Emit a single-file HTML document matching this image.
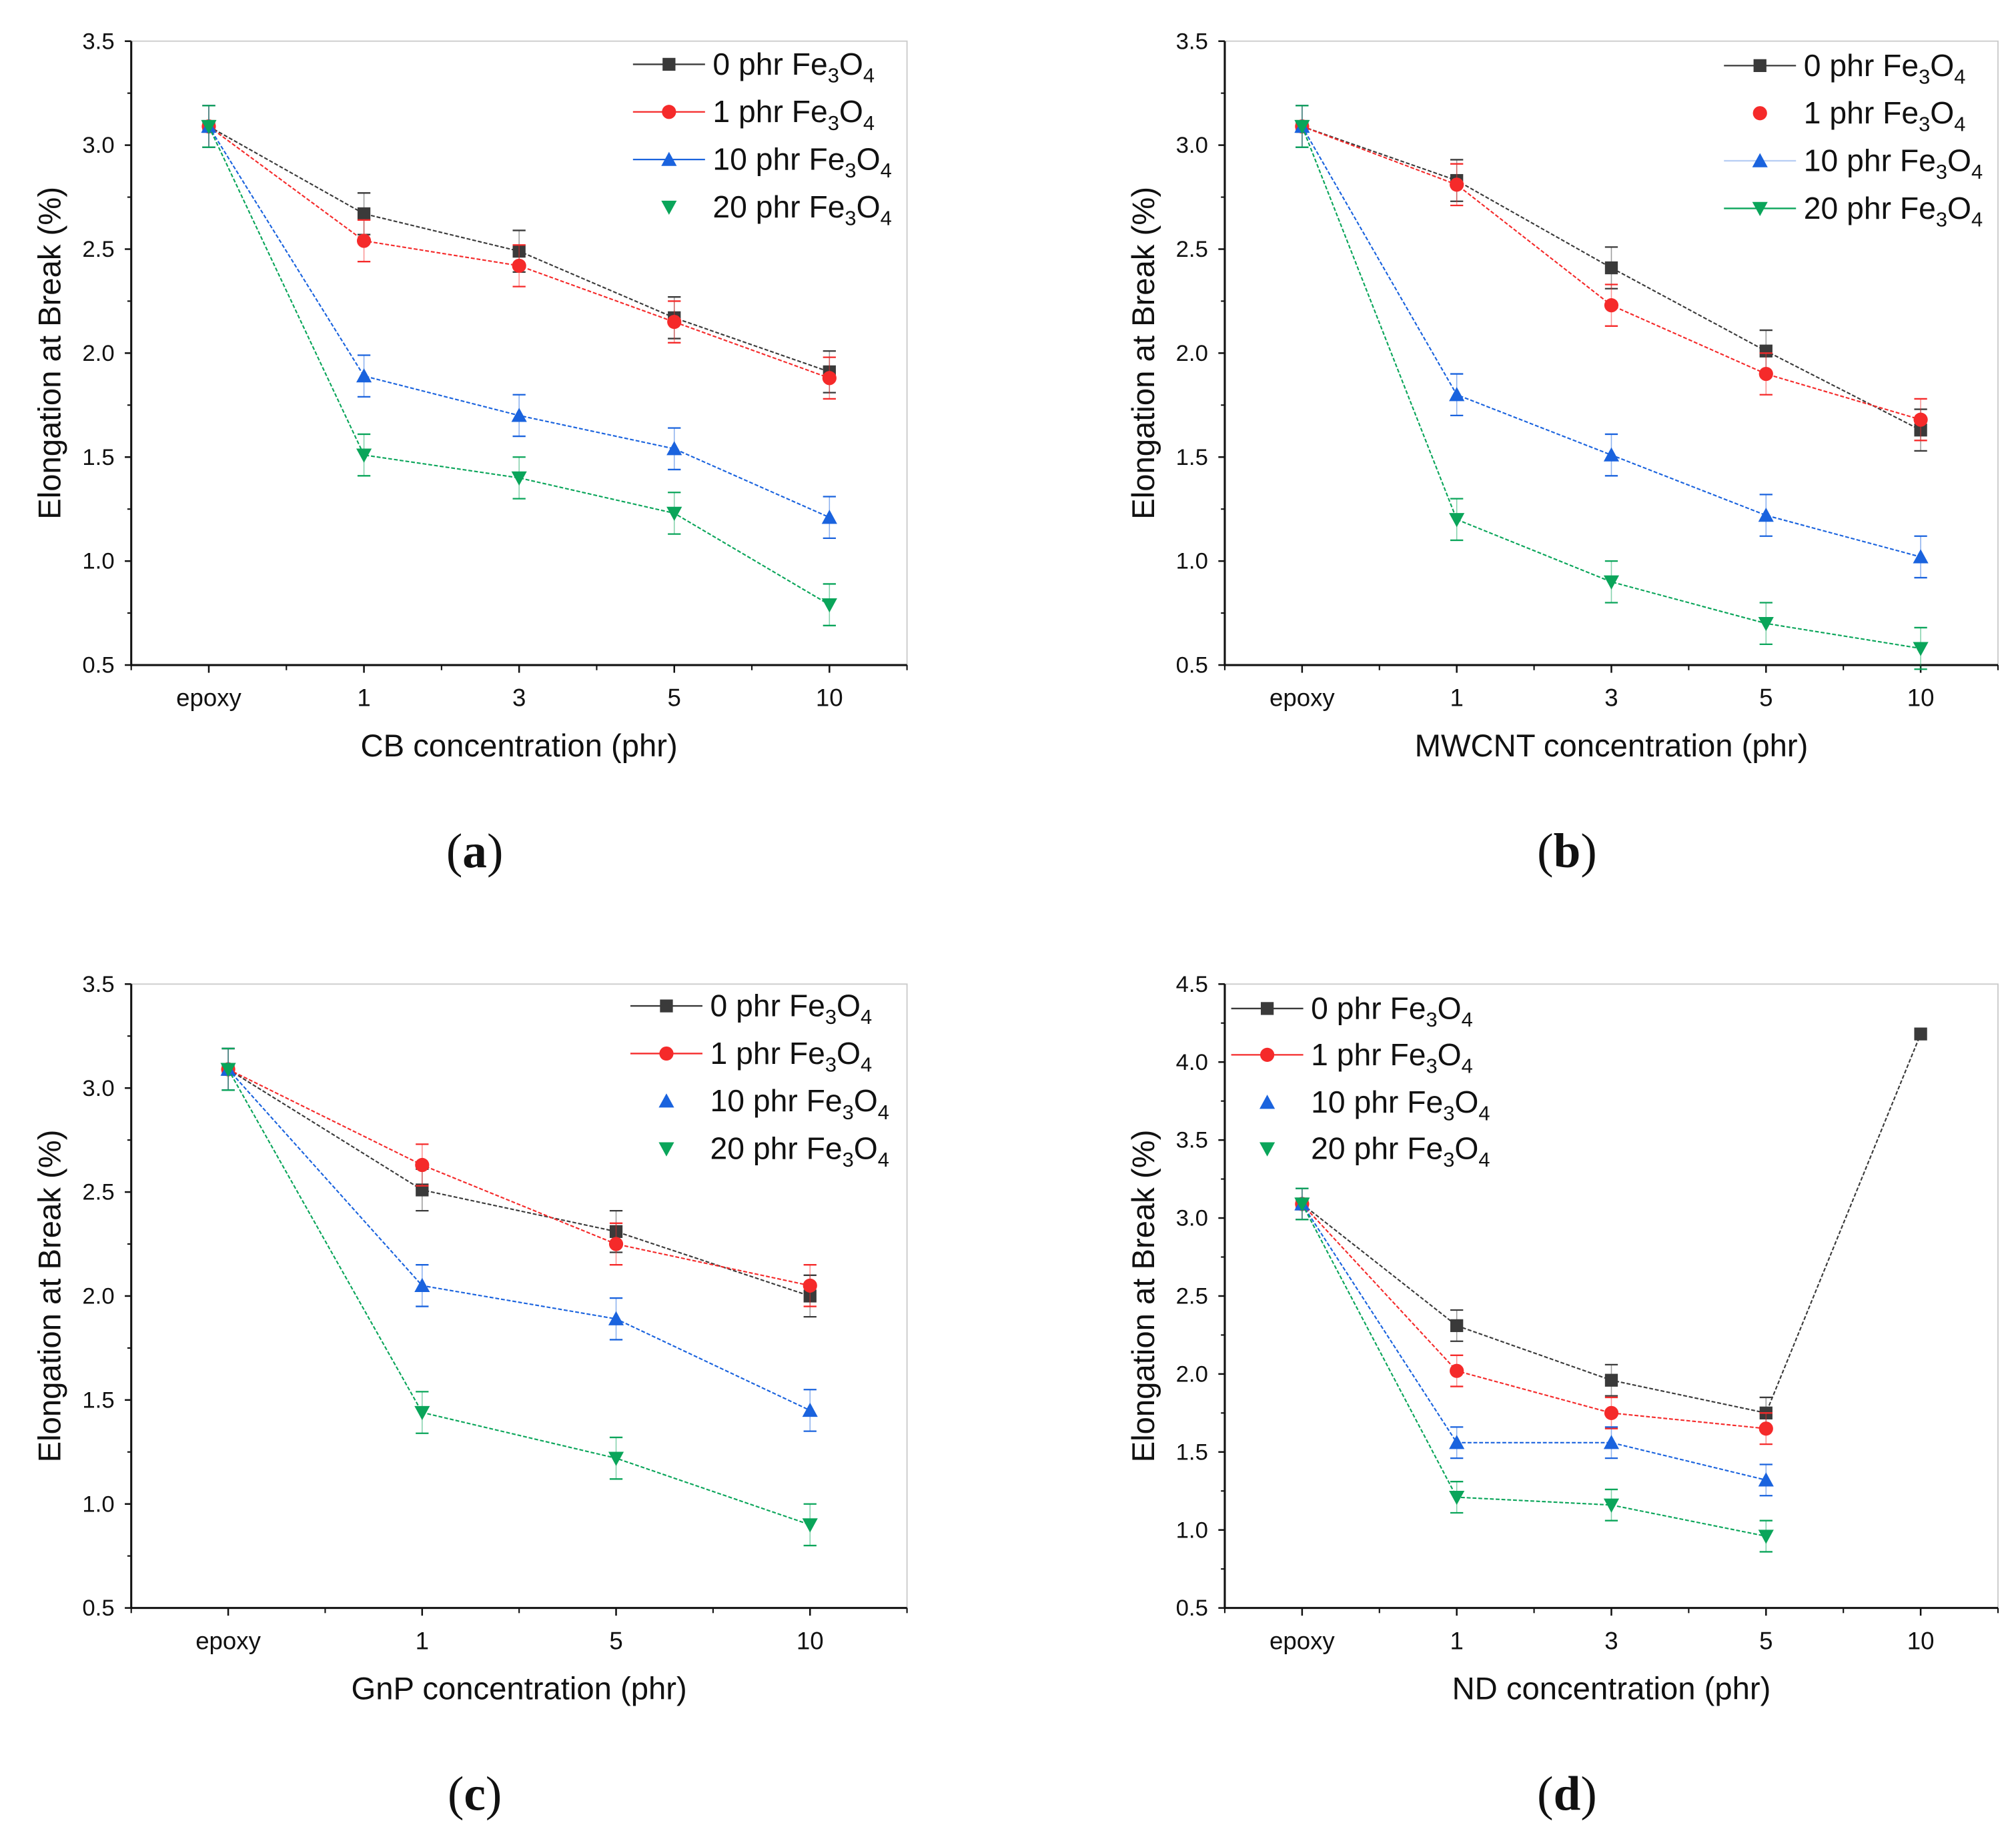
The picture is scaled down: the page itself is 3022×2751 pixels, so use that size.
<!DOCTYPE html>
<html><head><meta charset="utf-8"><style>
html,body{margin:0;padding:0;background:#fff}
svg{display:block}
</style></head><body>
<svg id="fig" width="3022" height="2751" viewBox="0 0 1567 1426.5" preserveAspectRatio="none" xmlns="http://www.w3.org/2000/svg" font-family="Liberation Sans, sans-serif"></svg>
<script>
const catsA=["epoxy","1","3","5","10"];
const catsB=["epoxy","1","3","5","10"];
const catsC=["epoxy","1","5","10"];
const catsD=["epoxy","1","3","5","10"];
const seriesNames=["0 phr","1 phr","10 phr","20 phr"];
const a0=[3.09,2.67,2.49,2.17,1.91], a1=[3.09,2.54,2.42,2.15,1.88], a10=[3.09,1.89,1.70,1.54,1.21], a20=[3.09,1.51,1.40,1.23,0.79];
const b0=[3.09,2.83,2.41,2.01,1.63], b1=[3.09,2.81,2.23,1.90,1.68], b10=[3.09,1.80,1.51,1.22,1.02], b20=[3.09,1.20,0.90,0.70,0.58];
const c0=[3.09,2.51,2.31,2.00], c1=[3.09,2.63,2.25,2.05], c10=[3.09,2.05,1.89,1.45], c20=[3.09,1.44,1.22,0.90];
const d0=[3.09,2.31,1.96,1.75,4.18], d1=[3.09,2.02,1.75,1.65,null], d10=[3.09,1.56,1.56,1.32,null], d20=[3.09,1.21,1.16,0.96,null];
const yTicks1=[0.5,1.0,1.5,2.0,2.5,3.0,3.5];
const yTicksD=[0.5,1.0,1.5,2.0,2.5,3.0,3.5,4.0,4.5];

const NS="http://www.w3.org/2000/svg";
const svg=document.getElementById('fig');
const colors=["#3a3a3a","#f52a2a","#1a63de","#0aa55a"];
function el(tag,attrs,parent){const e=document.createElementNS(NS,tag);for(const k in attrs)e.setAttribute(k,attrs[k]);(parent||svg).appendChild(e);return e;}
function marker(g,kind,x,y,c){
  let m;
  if(kind===0)m=el('rect',{x:x-5,y:y-5,width:10,height:10,fill:c},g);
  else if(kind===1)m=el('circle',{cx:x,cy:y,r:5.5,fill:c},g);
  else if(kind===2)m=el('polygon',{points:`${x},${y-6} ${x+6},${y+5} ${x-6},${y+5}`,fill:c},g);
  else m=el('polygon',{points:`${x},${y+6} ${x+6},${y-5} ${x-6},${y-5}`,fill:c},g);
  
  
  return m;
}
function panel(o){
  const g=el('g',{});
  
  
  const {L,R,T,B,ymin,ymax,cats,series,yTicks}=o;
  const n=cats.length, step=(R-L)/n;
  const xs=i=>L+step*(i+0.5);
  const ys=v=>B-(v-ymin)/(ymax-ymin)*(B-T);
  const fr=el('path',{d:`M${L},${T}H${R}V${B}`,stroke:"#ccc",fill:"none","stroke-width":1},g);
  
  const ax=el('path',{d:`M${L},${T}V${B}H${R}`,stroke:"#111",fill:"none","stroke-width":1.6},g);
  
  yTicks.forEach((v,i)=>{
    const y=ys(v);
    el('line',{x1:L-5,x2:L,y1:y,y2:y,stroke:"#111","stroke-width":1.3},g);
    if(i<yTicks.length-1){const ym=ys(v+0.25);el('line',{x1:L-3,x2:L,y1:ym,y2:ym,stroke:"#111","stroke-width":1.1},g);}
    const t=el('text',{x:L-13,y:y+6,"text-anchor":"end","font-size":18,fill:"#111"},g);
    t.textContent=v.toFixed(1);
    
  });
  cats.forEach((c,i)=>{
    const x=xs(i);
    el('line',{x1:x,x2:x,y1:B,y2:B+6,stroke:"#111","stroke-width":1.3},g);
    el('line',{x1:L+step*i,x2:L+step*i,y1:B,y2:B+4,stroke:"#111","stroke-width":1.1},g);
    const t=el('text',{x:x,y:B+32,"text-anchor":"middle","font-size":19,fill:"#111"},g);
    t.textContent=c;
    
  });
  el('line',{x1:R,x2:R,y1:B,y2:B+4,stroke:"#111","stroke-width":1.1},g);
  const xt=el('text',{x:(L+R)/2,y:B+71,"text-anchor":"middle","font-size":24.5,fill:"#111"},g);
  xt.textContent=o.xtitle;
  const yt=el('text',{x:0,y:0,"text-anchor":"middle","font-size":24.5,fill:"#111",transform:`translate(${L-55},${(T+B)/2}) rotate(-90)`},g);
  yt.textContent="Elongation at Break (%)";
  series.forEach((s,k)=>{
    const sg=el('g',{},g);
    
    
    let pts=[];
    s.forEach((v,i)=>{if(v!==null)pts.push([xs(i),ys(v)]);});
    const ln=el('polyline',{points:pts.map(p=>p.join(',')).join(' '),fill:"none",stroke:colors[k],"stroke-width":1.1,"stroke-dasharray":"3,1.5"},sg);
    
    s.forEach((v,i)=>{
      if(v===null)return;
      const x=xs(i),e=(ys(v-0.1)-ys(v));
      if(!(o.id==='d'&&i===4)){
        el('line',{x1:x,x2:x,y1:ys(v)-e,y2:ys(v)+e,stroke:colors[k],"stroke-width":0.8,opacity:0.5},sg);
        el('line',{x1:x-5,x2:x+5,y1:ys(v)-e,y2:ys(v)-e,stroke:colors[k],"stroke-width":1.2},sg);
        el('line',{x1:x-5,x2:x+5,y1:ys(v)+e,y2:ys(v)+e,stroke:colors[k],"stroke-width":1.2},sg);
      }
      marker(sg,k,x,ys(v),colors[k]);
    });
  });
  o.leg.rows.forEach((ry,k)=>{
    const lg=el('g',{},g);
    
    const lx=o.leg.x;
    if(o.leg.lines[k])el('line',{x1:lx,x2:lx+56,y1:ry,y2:ry,stroke:colors[k],"stroke-width":1.2,opacity:o.leg.lines[k]},lg);
    marker(lg,k,lx+28,ry,colors[k]);
    const t=el('text',{x:lx+62,y:ry+8,"font-size":24,fill:"#111"},lg);
    t.innerHTML=seriesNames[k]+' Fe<tspan font-size="16" dy="6">3</tspan><tspan dy="-6">O</tspan><tspan font-size="16" dy="6">4</tspan>';
  });
  const pl=el('text',{x:o.lab[0],y:o.lab[1],"text-anchor":"middle","font-size":38,fill:"#111","font-family":"Liberation Serif, serif"},g);
  pl.innerHTML='(<tspan font-weight="bold">'+o.id+'</tspan>)';
  
}
panel({id:'a',L:102,R:705,T:32,B:517,ymin:0.5,ymax:3.5,cats:catsA,series:[a0,a1,a10,a20],yTicks:yTicks1,xtitle:"CB concentration (phr)",leg:{x:492,rows:[50,87,124,161],lines:[1,1,1,0]},lab:[369,674]});
panel({id:'b',L:952,R:1553,T:32,B:517,ymin:0.5,ymax:3.5,cats:catsB,series:[b0,b1,b10,b20],yTicks:yTicks1,xtitle:"MWCNT concentration (phr)",leg:{x:1340,rows:[51,88,125,162],lines:[1,0,0.3,1]},lab:[1218,674]});
panel({id:'c',L:102,R:705,T:765,B:1250,ymin:0.5,ymax:3.5,cats:catsC,series:[c0,c1,c10,c20],yTicks:yTicks1,xtitle:"GnP concentration (phr)",leg:{x:490,rows:[782,819,856,893],lines:[1,1,0,0]},lab:[369,1407]});
panel({id:'d',L:952,R:1553,T:765,B:1250,ymin:0.5,ymax:4.5,cats:catsD,series:[d0,d1,d10,d20],yTicks:yTicksD,xtitle:"ND concentration (phr)",leg:{x:957,rows:[784,820,857,893],lines:[1,1,0,0]},lab:[1218,1407]});
</script>
</body></html>
